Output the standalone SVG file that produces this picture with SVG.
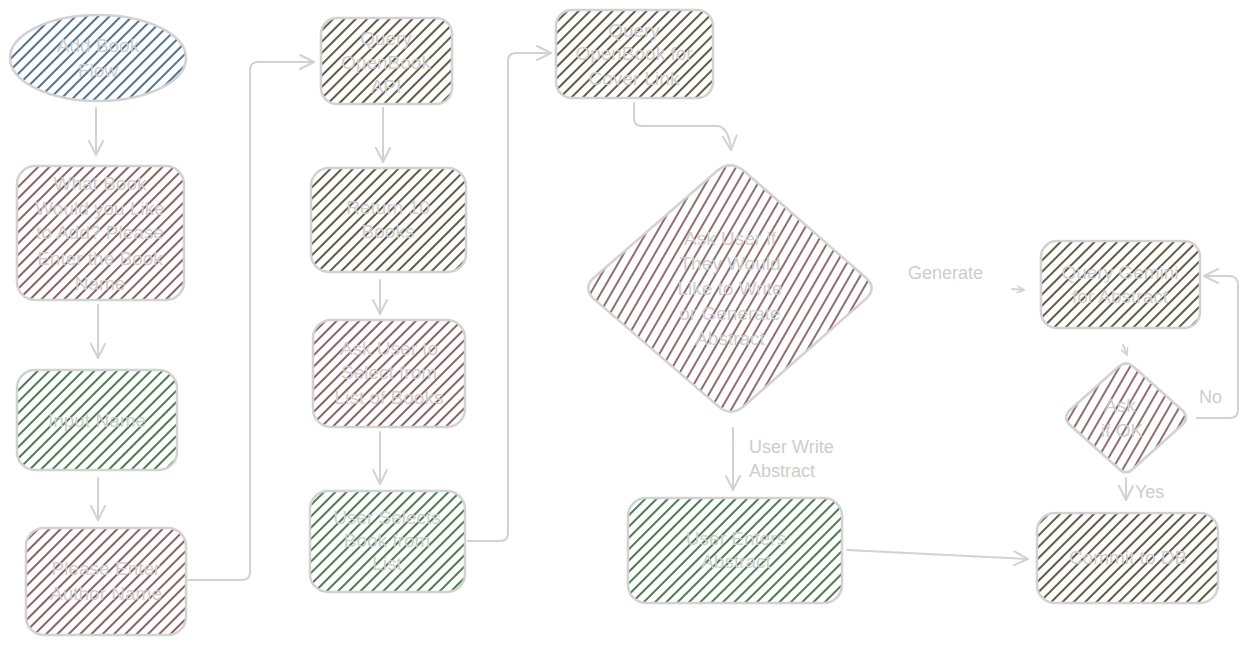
<svg xmlns="http://www.w3.org/2000/svg" width="1251" height="645" viewBox="0 0 1251 645">
<style>
.sh{stroke:#d2d2d2;stroke-width:2.5}
.t{font-family:"Liberation Sans",Arial,sans-serif;font-size:19px;fill:#cdcdcd;text-anchor:middle;dominant-baseline:central}
.lb{font-family:"Liberation Sans",Arial,sans-serif;font-size:18px;fill:#cdcdcd;dominant-baseline:central}
.c{fill:none;stroke:#d2d2d2;stroke-width:2;stroke-linecap:round;stroke-linejoin:round}
</style>
<defs>
<pattern id="hb" width="8" height="8" patternUnits="userSpaceOnUse" patternTransform="rotate(45)"><line x1="1" y1="0" x2="1" y2="8" stroke="#174470" stroke-width="1.5"/></pattern>
<pattern id="hm" width="8" height="8" patternUnits="userSpaceOnUse" patternTransform="rotate(45)"><line x1="1" y1="0" x2="1" y2="8" stroke="#561f1f" stroke-width="1.4"/></pattern>
<pattern id="hg" width="8" height="8" patternUnits="userSpaceOnUse" patternTransform="rotate(45)"><line x1="1" y1="0" x2="1" y2="8" stroke="#0f5014" stroke-width="1.5"/></pattern>
<pattern id="ho" width="8" height="8" patternUnits="userSpaceOnUse" patternTransform="rotate(45)"><line x1="1" y1="0" x2="1" y2="8" stroke="#2e2405" stroke-width="1.5"/></pattern>
<pattern id="hmd" width="9" height="9" patternUnits="userSpaceOnUse" patternTransform="rotate(30)"><line x1="1" y1="0" x2="1" y2="9" stroke="#561f1f" stroke-width="1.3"/></pattern>
<marker id="ar" viewBox="0 0 16 16" refX="15" refY="8" markerWidth="16" markerHeight="16" markerUnits="userSpaceOnUse" orient="auto"><path d="M1,1 L15,8 L1,15" fill="none" stroke="#d2d2d2" stroke-width="2" stroke-linecap="round" stroke-linejoin="round"/></marker>
<marker id="ars" viewBox="0 0 16 16" refX="15" refY="8" markerWidth="8" markerHeight="8" markerUnits="userSpaceOnUse" orient="auto"><path d="M1,1 L15,8 L1,15" fill="none" stroke="#d2d2d2" stroke-width="3" stroke-linecap="round" stroke-linejoin="round"/></marker>
</defs>
<rect width="1251" height="645" fill="#ffffff"/>

<g id="connectors">
<path class="c" d="M96,108 L96,155" marker-end="url(#ar)"/>
<path class="c" d="M98,305 L98,358" marker-end="url(#ar)"/>
<path class="c" d="M98,478 L98,520" marker-end="url(#ar)"/>
<path class="c" d="M188,580 L242,580 Q250,580 250,572 L250,70 Q250,62 258,62 L314,62" marker-end="url(#ar)"/>
<path class="c" d="M383,108 L383,162" marker-end="url(#ar)"/>
<path class="c" d="M380,280 L380,314" marker-end="url(#ar)"/>
<path class="c" d="M380,432 L380,484" marker-end="url(#ar)"/>
<path class="c" d="M468,541 L500,541 Q508,541 508,533 L508,61 Q508,53 516,53 L551,53" marker-end="url(#ar)"/>
<path class="c" d="M634,103 L634,118 Q634,126 642,126 L718,126 Q729,128 731,150" marker-end="url(#ar)"/>
<path class="c" d="M733,428 L733,490" marker-end="url(#ar)"/>
<text class="lb" x="749" y="447">User Write</text>
<text class="lb" x="749" y="471">Abstract</text>
<text class="lb" x="908" y="273">Generate</text>
<path class="c" d="M1012,289 L1024,290" marker-end="url(#ars)"/>
<path class="c" d="M1123,345 L1127,355" marker-end="url(#ars)"/>
<path class="c" d="M1197,418 L1230,418 Q1238,418 1238,410 L1238,285 Q1238,276 1229,276 L1204,276" marker-end="url(#ar)"/>
<text class="lb" x="1199" y="397">No</text>
<path class="c" d="M1126,478 L1126,500" marker-end="url(#ar)"/>
<text class="lb" x="1135" y="492">Yes</text>
<path class="c" d="M847,550 L1028,559" marker-end="url(#ar)"/>
</g>

<g id="n1"><ellipse class="sh" cx="98" cy="58" rx="88" ry="43" fill="url(#hb)"/>
<text class="t" x="98" y="45">Add Book</text><text class="t" x="98" y="70">Flow</text></g>

<g id="n2"><rect class="sh" x="17" y="166" width="167" height="134" rx="18" fill="url(#hm)"/>
<text class="t" x="100" y="183">What Book</text><text class="t" x="100" y="208">Would you Like</text><text class="t" x="100" y="232">to Add? Please</text><text class="t" x="100" y="258">Enter the Book</text><text class="t" x="100" y="283">Name</text></g>

<g id="n3"><rect class="sh" x="17" y="370" width="160" height="100" rx="18" fill="url(#hg)"/>
<text class="t" x="97" y="420">Input Name</text></g>

<g id="n4"><rect class="sh" x="26" y="528" width="160" height="107" rx="18" fill="url(#hm)"/>
<text class="t" x="106" y="568">Please Enter</text><text class="t" x="106" y="593">Author Name</text></g>

<g id="n5"><rect class="sh" x="321" y="18" width="131" height="86" rx="16" fill="url(#ho)"/>
<text class="t" x="386" y="38">Query</text><text class="t" x="386" y="62">OpenBook</text><text class="t" x="386" y="86">API</text></g>

<g id="n6"><rect class="sh" x="311" y="168" width="155" height="104" rx="18" fill="url(#ho)"/>
<text class="t" x="388" y="207">Return 10</text><text class="t" x="388" y="231">Books</text></g>

<g id="n7"><rect class="sh" x="313" y="320" width="152" height="107" rx="18" fill="url(#hm)"/>
<text class="t" x="389" y="348">Ask User to</text><text class="t" x="389" y="372">Select from</text><text class="t" x="389" y="397">List of Books</text></g>

<g id="n8"><rect class="sh" x="310" y="491" width="155" height="101" rx="18" fill="url(#hg)"/>
<text class="t" x="387" y="517">User Selects</text><text class="t" x="387" y="540">Book from</text><text class="t" x="387" y="563">List</text></g>

<g id="n9"><rect class="sh" x="556" y="10" width="157" height="88" rx="16" fill="url(#ho)"/>
<text class="t" x="634" y="30">Query</text><text class="t" x="634" y="53">OpenBook for</text><text class="t" x="634" y="78">Cover Link</text></g>

<g id="n10"><path class="sh" fill="url(#hmd)" d="M743.7,170.7 L865.3,277.3 Q878,288 865.3,299.4 L743.6,406.4 Q731,417 718.4,406.4 L594.4,299.4 Q582,288 594.4,277.3 L717.3,170.7 Q730,160 743.7,170.7 Z"/>
<text class="t" x="730" y="238">Ask User if</text><text class="t" x="730" y="263">They Would</text><text class="t" x="730" y="288">Like to Write</text><text class="t" x="730" y="313">or Generate</text><text class="t" x="730" y="338">Abstract</text></g>

<g id="n11"><rect class="sh" x="1041" y="241" width="159" height="87" rx="16" fill="url(#ho)"/>
<text class="t" x="1120" y="272">Query Gemini</text><text class="t" x="1120" y="296">for Abstract</text></g>

<g id="n12"><path class="sh" fill="url(#hmd)" d="M1133.5,366.7 L1182,410 Q1190,418 1182,425 L1133.5,468.5 Q1126,476 1118.5,468.5 L1070,425 Q1062,418 1070,410 L1118.5,366.7 Q1126,360 1133.5,366.7 Z"/>
<text class="t" x="1120" y="405">Ask</text><text class="t" x="1122" y="430">if OK</text></g>

<g id="n13"><rect class="sh" x="1037" y="513" width="181" height="90" rx="18" fill="url(#ho)"/>
<text class="t" x="1128" y="557">Commit to DB</text></g>

<g id="n14"><rect class="sh" x="628" y="498" width="214" height="105" rx="18" fill="url(#hg)"/>
<text class="t" x="736" y="538">User Enters</text><text class="t" x="736" y="561">Abstract</text></g>
</svg>
